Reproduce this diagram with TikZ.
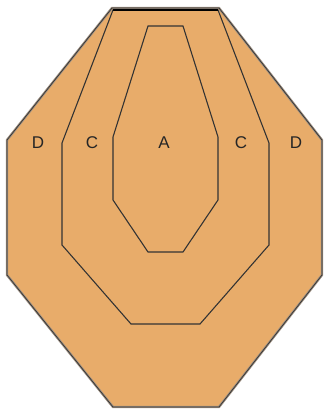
\documentclass[tikz,border=0pt]{standalone}
\usepackage{fontspec}
\setsansfont{Liberation Sans}
\definecolor{tgt}{RGB}{232,172,106}
\begin{document}
\begin{tikzpicture}[font=\sffamily,x=1pt,y=-1pt]
\useasboundingbox (0,0) rectangle (324,410);
\def\zone#1{\draw[black!80,line width=1.1pt,line join=miter] #1 -- cycle;}
% outer D plate
\fill[tgt] (112,8)--(219,8)--(322,140)--(322,275)--(219,407)--(113,407)--(7,275)--(7,140)--cycle;
\draw[brown!40!black!55,line width=2.4pt] (112,8)--(219,8)--(322,140)--(322,275)--(219,407)--(113,407)--(7,275)--(7,140)--cycle;
\draw[black!80,line width=0.7pt] (112,8)--(219,8)--(322,140)--(322,275)--(219,407)--(113,407)--(7,275)--(7,140)--cycle;
% C and A zones
\zone{(113,10)--(218,10)--(269,143)--(269,245)--(200,324)--(131,324)--(62,245)--(62,143)}
\draw[black,line width=1.6pt] (113,10)--(218,10);
\zone{(148,26)--(183,26)--(218,137)--(218,200)--(183,252)--(148,252)--(113,200)--(113,137)}
\foreach \x/\lab/\nm in {38/D/dl,92/C/cl,164/A/a,241/C/cr,296/D/dr}{\node[font=\sffamily\fontsize{17}{17}\selectfont,text=black!85] (\nm) at (\x,143){\lab};}
\end{tikzpicture}
\end{document}
